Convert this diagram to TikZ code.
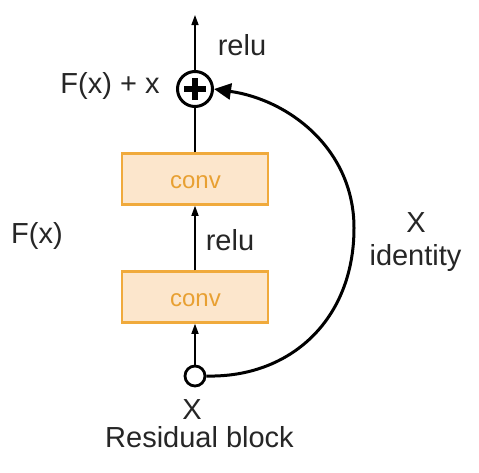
\documentclass[tikz,border=0pt]{standalone}
\usepackage{fontspec}
\setmainfont{Liberation Sans}
\usetikzlibrary{arrows.meta}
\definecolor{convborder}{RGB}{240,170,60}
\definecolor{convfill}{RGB}{252,230,204}
\definecolor{convtext}{RGB}{232,160,50}
\begin{document}
\begin{tikzpicture}[x=1pt,y=-1pt,
  lbl/.style={font=\fontsize{29}{34}\selectfont, text=black!85, inner sep=0pt, anchor=base},
  convbox/.style={draw=convborder, fill=convfill, line width=2.5pt, minimum width=146pt, minimum height=51pt, inner sep=0pt},
  convlbl/.style={font=\fontsize{24}{28}\selectfont, text=convtext, inner sep=0pt, anchor=base},
  flow/.style={line width=1.4pt, -{Triangle[length=10pt,width=7pt]}},
  plain/.style={line width=1.4pt},
  skip/.style={line width=3pt, -{Triangle[length=17pt,width=16pt]}}]
\useasboundingbox (0,0) rectangle (479,472);
% nodes
\node[circle, draw, line width=3pt, minimum size=35pt, inner sep=0pt] (plus) at (195,89) {};
\draw[line width=5.5pt] ([xshift=-11pt]plus.center) -- ([xshift=11pt]plus.center);
\draw[line width=5.5pt] ([yshift=-11pt]plus.center) -- ([yshift=11pt]plus.center);
\coordinate (top) at (195,15);
\node[convbox] (c2) at (195,179) {};
\node[convbox] (c1) at (195,297) {};
\node[convlbl] (t2) at (195.5,188) {conv};
\node[convlbl] (t1) at (195.5,306.5) {conv};
\node[circle, draw, line width=2.8pt, minimum size=20pt, inner sep=0pt] (xin) at (195,376) {};
\coordinate (mid) at (354,228);
% labels
\node[lbl] (relu1) at (242,55) {relu};
\node[lbl] (fxx) at (110,93) {F(x) + x};
\node[lbl] (relu2) at (230,250) {relu};
\node[lbl] (fx) at (37,243) {F(x)};
\node[lbl] (xid) at (416,232) {X};
\node[lbl] (ident) at (415.5,265) {identity};
\node[lbl] (xb) at (192,419) {X};
\node[lbl] (res) at (199.5,447) {Residual block};
% connectors
\draw[flow] (plus.north) -- (top);
\draw[plain] (c2.north) -- (plus.south);
\draw[flow] (c1.north) -- (c2.south);
\draw[flow] (xin.north) -- (c1.south);
\draw[skip] (xin.east) .. controls (290,378) and (354,320) .. (mid)
  .. controls (354,150) and (290,100) .. (plus.east);
\end{tikzpicture}
\end{document}
